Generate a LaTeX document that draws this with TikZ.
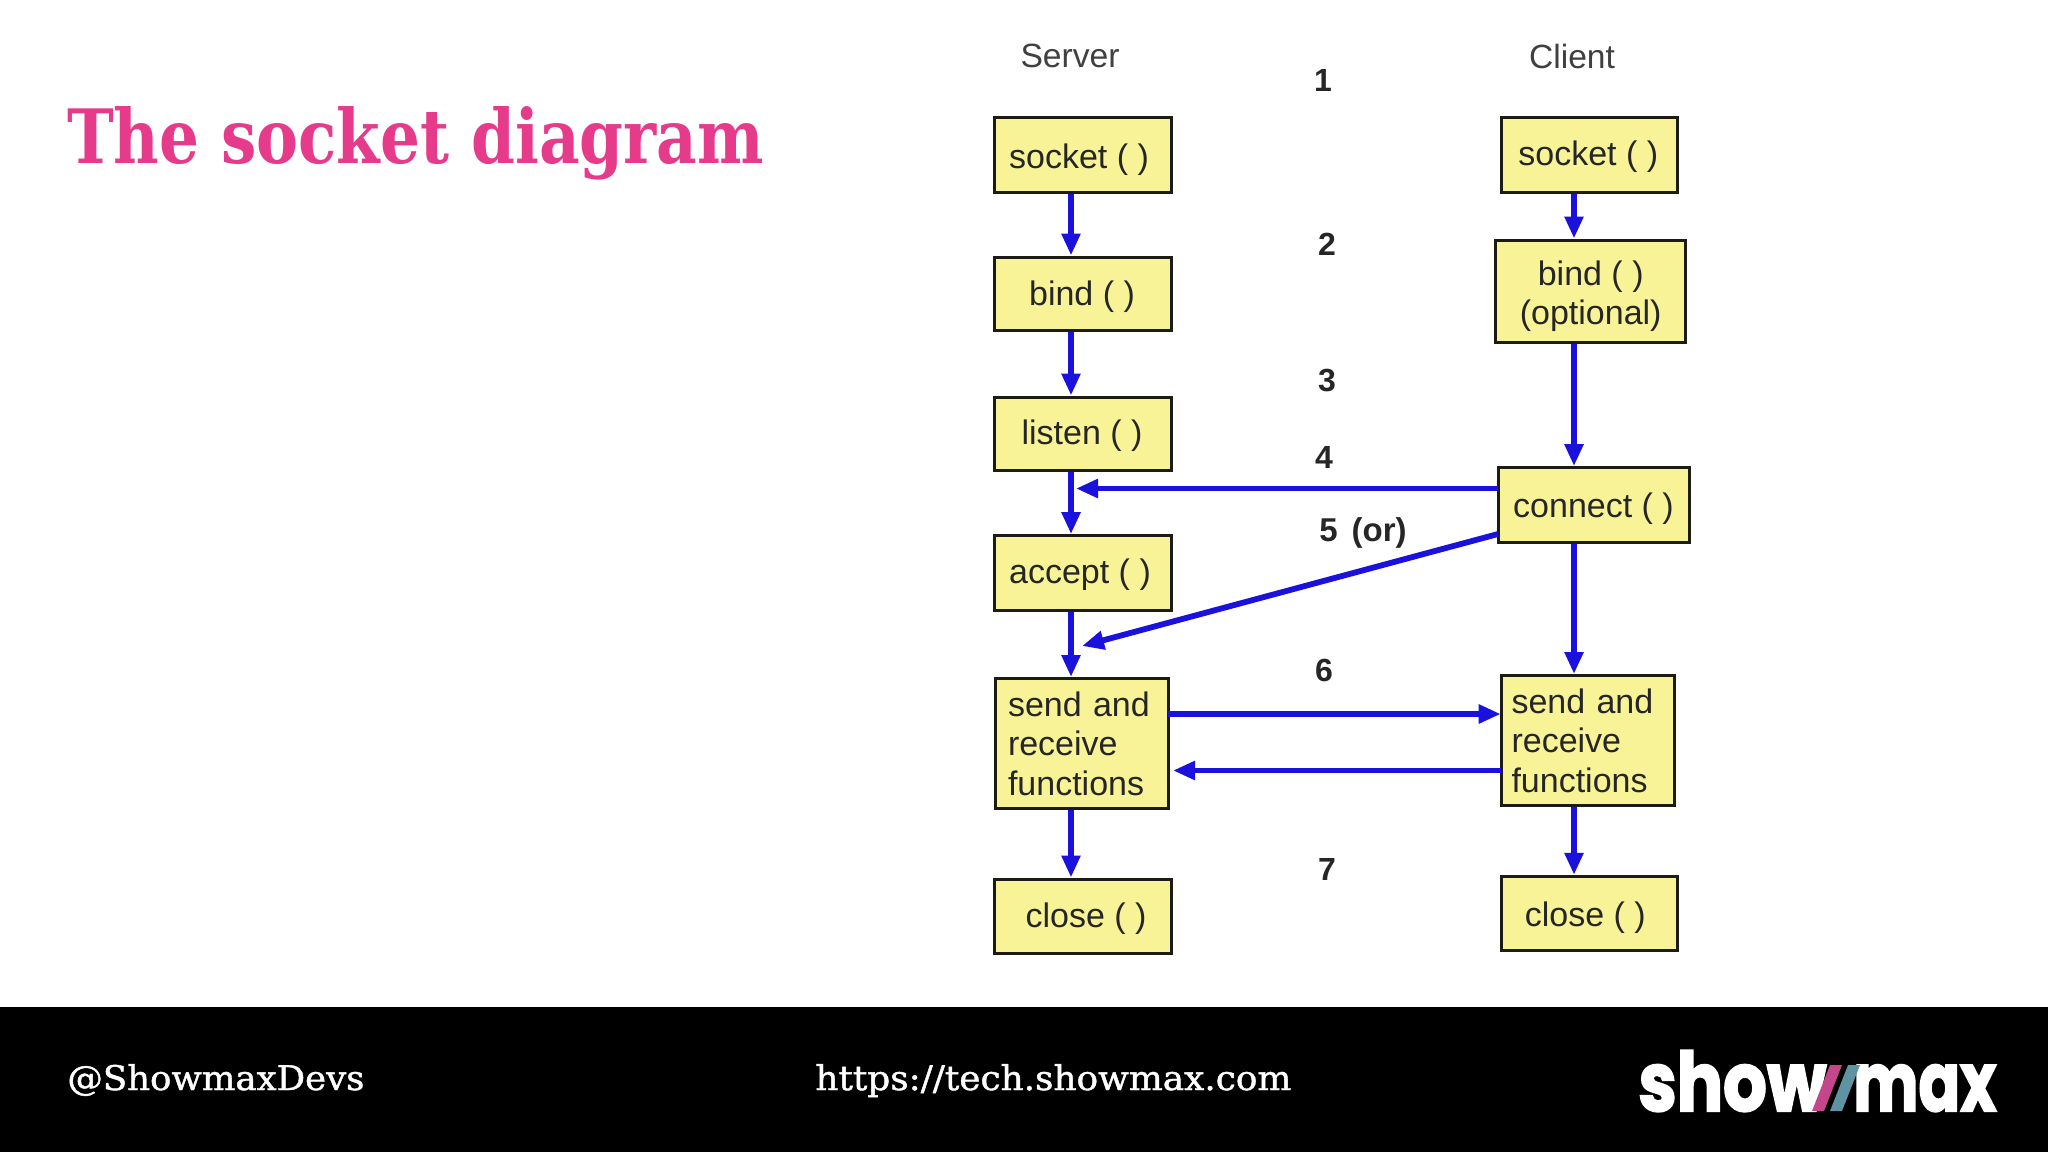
\documentclass[tikz,border=0pt]{standalone}
\usepackage{fontspec}
\setmainfont{Liberation Sans}
\newfontfamily\slabfont{DejaVu Serif}
\newfontfamily\slabmid[FakeBold=1.2]{DejaVu Serif}
\newfontfamily\logofont[FakeBold=2.5]{Poppins}
\usetikzlibrary{arrows.meta,positioning}
\definecolor{boxfill}{HTML}{F9F397}
\definecolor{boxline}{HTML}{1C1C14}
\definecolor{arrowblue}{HTML}{1A12DC}
\definecolor{titlepink}{HTML}{E63A8B}
\definecolor{logopink}{HTML}{C4478C}
\definecolor{logoblue}{HTML}{5F93A3}
\newcommand{\tshift}[3]{\raisebox{#2}[0pt][0pt]{\makebox[0pt]{\hspace{#1}#3}}}
\tikzset{
  x=0.5pt,y=-0.5pt,
  fnbox/.style={draw=boxline,fill=boxfill,line width=1.5pt,inner sep=0pt,font=\fontsize{17}{19.7}\selectfont,text=black!85},
  multibox/.style={fnbox,align=left,anchor=north west,inner ysep=0pt},
  flow/.style={draw=arrowblue,line width=2.9pt,-{Triangle[length=11pt,width=9pt]}},
  heading/.style={font=\fontsize{16.8}{19}\selectfont,text=black!75,inner sep=0pt},
  stepnum/.style={font=\fontsize{16}{19}\bfseries\selectfont,text=black!85,inner sep=0pt},
  footertext/.style={text=white,inner sep=0pt,anchor=base west}
}
\begin{document}
\begin{tikzpicture}
\useasboundingbox (0,0) rectangle (2048,1152);
\fill[white] (0,0) rectangle (2048,1152);
\fill[black] (0,1007) rectangle (2048,1152);

\node[inner sep=0pt,anchor=base west,text=titlepink] (title) at (66.6,163)
  {\resizebox{348.5pt}{\height}{\fontsize{37.5}{44}\slabfont\bfseries The socket diagram}};

\node[heading] (server) at (1070,56) {Server};
\node[heading] (client) at (1572,56) {Client};

\node[stepnum] (n1) at (1323,80) {1};
\node[stepnum] (n2) at (1327,244) {2};
\node[stepnum] (n3) at (1327,380) {3};
\node[stepnum] (n4) at (1324,457) {4};
\node[stepnum,font=\fontsize{16.5}{19}\selectfont] (n5) at (1363,533) {\textbf{5}\hspace{7pt}\textbf{(or)}};
\node[stepnum] (n6) at (1324,670) {6};
\node[stepnum] (n7) at (1327,869) {7};

% server column
\node[fnbox,minimum width=88.8pt,minimum height=37.2pt] (ssock) at (1083,154.8) {\tshift{-4pt}{-6.7pt}{socket ( )}};
\node[fnbox,minimum width=88.8pt,minimum height=36.8pt] (sbind) at (1083,293.8) {\tshift{-1pt}{-5.7pt}{bind ( )}};
\node[fnbox,minimum width=88.8pt,minimum height=36.5pt] (slist) at (1083,433.5) {\tshift{-1pt}{-5.7pt}{listen ( )}};
\node[fnbox,minimum width=88.8pt,minimum height=37.2pt] (sacc) at (1083,572.8) {\tshift{-3pt}{-5.1pt}{accept ( )}};
\node[multibox,inner xsep=6.5pt,text width=73.5pt,minimum height=65.2pt] (ssend) at (993.5,677) {send and\\receive\\functions};
\node[fnbox,minimum width=88.8pt,minimum height=37.2pt] (sclose) at (1083,916.2) {\tshift{3pt}{-5.7pt}{close ( )}};

% client column
\node[fnbox,minimum width=88.2pt,minimum height=37.2pt] (csock) at (1589.3,154.8) {\tshift{-1pt}{-5.1pt}{socket ( )}};
\node[fnbox,align=center,minimum width=95.2pt,minimum height=51pt] (cbind) at (1590.7,291) {\rule{0pt}{17.5pt}bind ( )\\(optional)};
\node[fnbox,minimum width=95.5pt,minimum height=37.2pt] (cconn) at (1593.5,504.8) {\tshift{0pt}{-6.4pt}{connect ( )}};
\node[multibox,inner xsep=5pt,text width=76.3pt,minimum height=65.2pt] (csend) at (1500,674) {send and\\receive\\functions};
\node[fnbox,minimum width=88.2pt,minimum height=37.2pt] (cclose) at (1589.3,913.5) {\tshift{-4pt}{-6.4pt}{close ( )}};

% column axes and free ends
\coordinate (sx) at (1071,0);
\coordinate (cx) at (1574,0);
\coordinate (conntop) at (1498,488.5);
\coordinate (stem4) at (1076,488.5);
\coordinate (connlow) at (1498,534);
\coordinate (stem5) at (1082,646);
\coordinate (a6) at (1168,714);
\coordinate (b6) at (1500.7,714);
\coordinate (a6r) at (1173,770.5);
\coordinate (b6r) at (1500.7,770.5);

\draw[flow] (ssock.south -| sx) -- (sbind.north -| sx);
\draw[flow] (sbind.south -| sx) -- (slist.north -| sx);
\draw[flow] (slist.south -| sx) -- (sacc.north -| sx);
\draw[flow] (sacc.south -| sx) -- (ssend.north -| sx);
\draw[flow] (ssend.south -| sx) -- (sclose.north -| sx);
\draw[flow] (csock.south -| cx) -- (cbind.north -| cx);
\draw[flow] (cbind.south -| cx) -- (cconn.north -| cx);
\draw[flow] (cconn.south -| cx) -- (csend.north -| cx);
\draw[flow] (csend.south -| cx) -- (cclose.north -| cx);
\draw[flow] (conntop) -- (stem4);
\draw[flow] (connlow) -- (stem5);
\draw[flow] (a6) -- (b6);
\draw[flow] (b6r) -- (a6r);

% footer
\node[footertext] (handle) at (67,1090)
  {\resizebox{148.5pt}{\height}{\fontsize{17}{20}\slabmid @ShowmaxDevs}};
\node[footertext] (url) at (815,1090)
  {\resizebox{238pt}{\height}{\fontsize{17}{20}\slabmid https://tech.showmax.com}};

% logo
\node[footertext] (logoshow) at (1638,1111)
  {\resizebox{94pt}{\height}{\fontsize{41}{46}\logofont\bfseries show}};
\node[footertext] (logomax) at (1853,1111)
  {\resizebox{71.5pt}{\height}{\fontsize{41}{46}\logofont\bfseries max}};
\fill[logopink] (1830,1065) -- (1842,1065) -- (1824,1111) -- (1812,1111) -- cycle;
\fill[logoblue] (1848,1065) -- (1860,1065) -- (1842,1111) -- (1830,1111) -- cycle;
\end{tikzpicture}
\end{document}
